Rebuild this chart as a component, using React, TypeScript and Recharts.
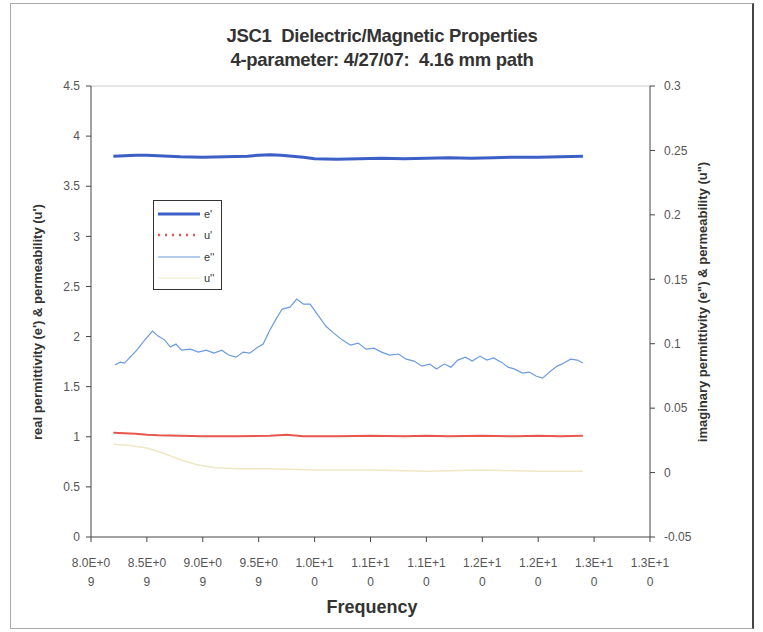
import React from "react";
import { LineChart, Line, XAxis, YAxis, ReferenceLine } from "recharts";

// frequency in GHz
const X_TICKS = [8, 8.5, 9, 9.5, 10, 10.5, 11, 11.5, 12, 12.5, 13];
const X_TICK_LABELS = [
  "8.0E+09", "8.5E+09", "9.0E+09", "9.5E+09", "1.0E+10", "1.1E+10",
  "1.1E+10", "1.2E+10", "1.2E+10", "1.3E+10", "1.3E+10",
];
const LEFT_TICKS = [0, 0.5, 1, 1.5, 2, 2.5, 3, 3.5, 4, 4.5];
const RIGHT_TICKS = [-0.05, 0, 0.05, 0.1, 0.15, 0.2, 0.25, 0.3];

// e' (real permittivity)
const E1_FREQ = [8.2, 8.3, 8.4, 8.5, 8.6, 8.7, 8.8, 9.0, 9.2, 9.4, 9.5, 9.6, 9.7, 9.8, 9.9, 10.0, 10.2, 10.4, 10.6, 10.8, 11.0, 11.2, 11.4, 11.6, 11.8, 12.0, 12.2, 12.4];
const E1_VAL = [3.8, 3.805, 3.81, 3.81, 3.805, 3.8, 3.795, 3.79, 3.795, 3.8, 3.81, 3.815, 3.81, 3.8, 3.79, 3.775, 3.77, 3.775, 3.78, 3.775, 3.78, 3.785, 3.78, 3.785, 3.79, 3.79, 3.795, 3.8];

// u' (real permeability)
const U1_FREQ = [8.2, 8.3, 8.4, 8.5, 8.6, 8.8, 9.0, 9.3, 9.6, 9.75, 9.9, 10.2, 10.5, 10.8, 11.0, 11.2, 11.5, 11.8, 12.0, 12.2, 12.4];
const U1_VAL = [1.04, 1.035, 1.03, 1.02, 1.015, 1.01, 1.005, 1.005, 1.01, 1.02, 1.005, 1.005, 1.01, 1.005, 1.01, 1.005, 1.01, 1.005, 1.01, 1.005, 1.01];

// e'' (imaginary permittivity, right axis)
const E2_FREQ = [8.215, 8.26, 8.3, 8.35, 8.41, 8.48, 8.55, 8.6, 8.66, 8.71, 8.76, 8.81, 8.89, 8.96, 9.03, 9.1, 9.17, 9.23, 9.3, 9.36, 9.42, 9.48, 9.54, 9.6, 9.65, 9.71, 9.78, 9.84, 9.9, 9.96, 10.03, 10.1, 10.17, 10.25, 10.32, 10.39, 10.46, 10.53, 10.6, 10.67, 10.75, 10.82, 10.89, 10.96, 11.03, 11.09, 11.16, 11.22, 11.28, 11.35, 11.41, 11.48, 11.54, 11.6, 11.67, 11.73, 11.79, 11.86, 11.92, 11.98, 12.04, 12.11, 12.17, 12.23, 12.29, 12.35, 12.4];
const E2_VAL = [0.0834, 0.0857, 0.085, 0.0896, 0.095, 0.1028, 0.1098, 0.1059, 0.1028, 0.0974, 0.0997, 0.095, 0.0958, 0.0935, 0.095, 0.0927, 0.095, 0.0912, 0.0896, 0.0935, 0.0927, 0.0966, 0.0997, 0.1106, 0.1183, 0.1269, 0.1284, 0.1346, 0.1307, 0.1307, 0.1222, 0.1137, 0.1082, 0.1028, 0.0989, 0.1005, 0.0958, 0.0966, 0.0935, 0.0912, 0.092, 0.088, 0.0865, 0.0826, 0.0842, 0.0803, 0.0842, 0.0818, 0.0873, 0.0896, 0.0865, 0.0904, 0.0873, 0.0889, 0.0857, 0.0818, 0.0803, 0.0772, 0.078, 0.0749, 0.0733, 0.0787, 0.0826, 0.085, 0.088, 0.0873, 0.085];

// u'' (imaginary permeability, right axis)
const U2_FREQ = [8.2, 8.35, 8.5, 8.65, 8.8, 8.95, 9.1, 9.3, 9.6, 10.0, 10.5, 11.0, 11.5, 12.0, 12.4];
const U2_VAL = [0.022, 0.021, 0.019, 0.015, 0.01, 0.006, 0.004, 0.003, 0.003, 0.002, 0.002, 0.001, 0.002, 0.001, 0.001];

const zip = (f: number[], v: number[]) => f.map((x, i) => ({ f: x, v: v[i] }));

const FONT = "'Liberation Sans', Arial, sans-serif";
const TICK_COLOR = "#555";
const TEXT_COLOR = "#333";

const SERIES = [
  { name: "e'", color: "#3b5fc6", width: 3, dash: undefined as string | undefined },
  { name: "u'", color: "#e8574e", width: 2.5, dash: "2 5" },
  { name: "e''", color: "#6b9be0", width: 1.2, dash: undefined },
  { name: "u''", color: "#efe7c6", width: 1.2, dash: undefined },
];

function XTick(props: any) {
  const { x, y, index } = props;
  const label = X_TICK_LABELS[index] ?? "";
  return (
    <g>
      <text x={x} y={y + 23} textAnchor="middle" fontSize={12} fill={TICK_COLOR} fontFamily={FONT}>
        {label.slice(0, 6)}
      </text>
      <text x={x} y={y + 42} textAnchor="middle" fontSize={12} fill={TICK_COLOR} fontFamily={FONT}>
        {label.slice(6)}
      </text>
    </g>
  );
}

function LegendBox() {
  return (
    <div style={{ position: "absolute", left: 153, top: 200, border: "1px solid #333", width: 69, height: 90, background: "#fff", boxSizing: "border-box", paddingTop: 2 }}>
      {SERIES.map((s) => (
        <div key={s.name} style={{ display: "flex", alignItems: "center", height: 21.5 }}>
          <svg width={46} height={10} style={{ marginLeft: 2 }}>
            <line x1={2} y1={5} x2={44} y2={5} stroke={s.color} strokeWidth={s.width} strokeDasharray={s.dash} />
          </svg>
          <span style={{ fontFamily: FONT, fontSize: 11, lineHeight: "12px", color: TEXT_COLOR, marginLeft: 2 }}>{s.name}</span>
        </div>
      ))}
    </div>
  );
}

const yTick = { fontSize: 12, fill: TICK_COLOR, fontFamily: FONT };

export default function App() {
  return (
    <div style={{ position: "absolute", left: 0, top: 0, width: 763, height: 632, background: "#fff", overflow: "hidden" }}>
      <div style={{ position: "absolute", left: 10, top: 3, width: 741, height: 624, border: "1px solid #aaa", borderRight: "2px solid #444" }} />
      <div style={{ position: "absolute", left: 0, top: 0 }}>
        <LineChart width={763} height={632} margin={{ top: 86, right: 63, bottom: 35, left: 51 }}>
          <XAxis
            type="number"
            dataKey="f"
            domain={[8, 13]}
            ticks={X_TICKS}
            interval={0}
            tick={<XTick />}
            tickSize={5}
            stroke="#444"
            height={60}
          />
          <YAxis
            yAxisId="left"
            domain={[0, 4.5]}
            ticks={LEFT_TICKS}
            interval={0}
            width={40}
            tickSize={5}
            tickMargin={6}
            stroke="#444"
            tick={yTick}
          />
          <YAxis
            yAxisId="right"
            orientation="right"
            domain={[-0.05, 0.3]}
            ticks={RIGHT_TICKS}
            interval={0}
            width={50}
            tickSize={5}
            tickMargin={9}
            stroke="#444"
            tickFormatter={(v: number) => String(+v.toFixed(2))}
            tick={yTick}
          />
          <ReferenceLine yAxisId="left" y={4.5} stroke="#ccc" />
          <Line yAxisId="right" data={zip(U2_FREQ, U2_VAL)} dataKey="v" name="u''" stroke={SERIES[3].color} strokeWidth={1.5} dot={false} isAnimationActive={false} />
          <Line yAxisId="right" data={zip(E2_FREQ, E2_VAL)} dataKey="v" name="e''" stroke={SERIES[2].color} strokeWidth={1.2} dot={false} isAnimationActive={false} />
          <Line yAxisId="left" data={zip(U1_FREQ, U1_VAL)} dataKey="v" name="u'" stroke={SERIES[1].color} strokeWidth={2} dot={false} isAnimationActive={false} />
          <Line yAxisId="left" data={zip(E1_FREQ, E1_VAL)} dataKey="v" name="e'" stroke={SERIES[0].color} strokeWidth={3} dot={false} isAnimationActive={false} />
        </LineChart>
      </div>
      <LegendBox />
      <div style={{ position: "absolute", left: 132, width: 500, top: 24, textAlign: "center", fontFamily: FONT, fontWeight: "bold", fontSize: 18.5, color: TEXT_COLOR, lineHeight: "24px", letterSpacing: -0.3 }}>
        JSC1&nbsp; Dielectric/Magnetic Properties
        <br />
        4-parameter: 4/27/07:&nbsp; 4.16 mm path
      </div>
      <div style={{ position: "absolute", left: 272, width: 200, top: 597, textAlign: "center", fontFamily: FONT, fontWeight: "bold", fontSize: 18, color: TEXT_COLOR }}>
        Frequency
      </div>
      <div style={{ position: "absolute", left: 37, top: 322, width: 0, height: 0 }}>
        <div style={{ position: "absolute", transform: "translate(-50%, -50%) rotate(-90deg)", whiteSpace: "nowrap", fontFamily: FONT, fontWeight: "bold", fontSize: 13, color: TEXT_COLOR }}>
          real permittivity (e') &amp; permeability (u')
        </div>
      </div>
      <div style={{ position: "absolute", left: 702, top: 302, width: 0, height: 0 }}>
        <div style={{ position: "absolute", transform: "translate(-50%, -50%) rotate(-90deg)", whiteSpace: "nowrap", fontFamily: FONT, fontWeight: "bold", fontSize: 13, color: TEXT_COLOR }}>
          imaginary permittivity (e") &amp; permeability (u")
        </div>
      </div>
    </div>
  );
}
